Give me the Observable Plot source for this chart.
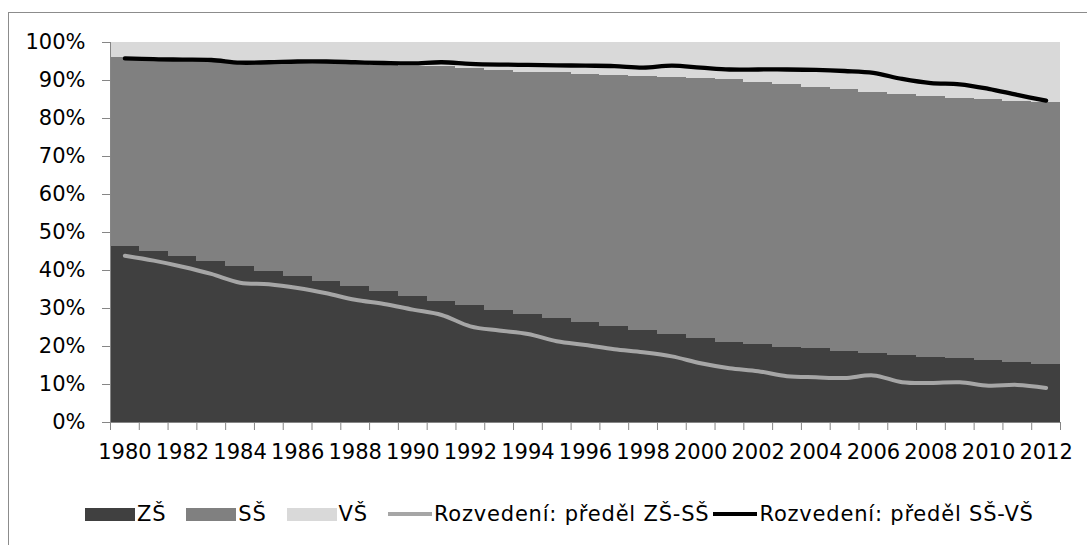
<!DOCTYPE html>
<html>
<head>
<meta charset="utf-8">
<script src="https://cdn.jsdelivr.net/npm/d3@7"></script>
<script src="https://cdn.jsdelivr.net/npm/@observablehq/plot@0.6"></script>
<style>
  body { margin: 0; background: #fff; }
  #wrap { position: relative; width: 1087px; height: 545px; overflow: hidden; font-family: "DejaVu Sans", sans-serif; }
  #border { position: absolute; left: 8px; top: 12px; width: 1300px; height: 700px; border: 1px solid #8c8c8c; box-sizing: border-box; }
  #chart { position: absolute; left: 0; top: 0; }
  #legend { position: absolute; left: 85px; top: 500px; height: 28px; display: flex; align-items: center; font-size: 21px; letter-spacing: 0.8px; color: #000; white-space: nowrap; }
  .item { display: flex; align-items: center; margin-right: 20px; }
  .item.l { margin-right: 4px; }
  .sw { width: 50px; height: 13px; margin-right: 2px; }
  .ln { width: 44px; height: 4px; margin-right: 2px; }
</style>
</head>
<body>
<div id="wrap">
  <div id="border"></div>
  <div id="chart"></div>
  <div id="legend"></div>
</div>
<script>
const years = [1980,1981,1982,1983,1984,1985,1986,1987,1988,1989,1990,1991,1992,1993,1994,1995,1996,1997,1998,1999,2000,2001,2002,2003,2004,2005,2006,2007,2008,2009,2010,2011,2012];
const seriesNames = ["ZŠ", "SŠ", "VŠ"];
const zs = [46.2,44.9,43.6,42.3,41.0,39.7,38.3,37.0,35.7,34.4,33.1,31.8,30.7,29.5,28.5,27.4,26.4,25.3,24.3,23.2,22.2,21.1,20.5,19.8,19.4,18.8,18.2,17.7,17.2,16.8,16.3,15.7,15.2];
const ss = [49.9,51.0,52.1,53.2,54.1,55.2,56.4,57.5,58.5,59.5,60.7,61.8,62.4,63.1,63.7,64.6,65.2,66.0,66.7,67.5,68.2,69.1,69.1,69.1,68.8,68.8,68.7,68.7,68.7,68.5,68.6,68.9,69.1];
const vs = [3.9,4.1,4.3,4.5,4.9,5.1,5.3,5.5,5.8,6.1,6.2,6.4,6.9,7.4,7.8,8.0,8.4,8.7,9.0,9.3,9.6,9.8,10.4,11.1,11.8,12.4,13.1,13.6,14.1,14.7,15.1,15.4,15.7];
const lineNames = ["Rozvedení: předěl ZŠ-SŠ", "Rozvedení: předěl SŠ-VŠ"];
const lineZsSs = [43.9,42.6,41.0,39.1,36.8,36.4,35.4,34.0,32.3,31.2,29.7,28.3,25.3,24.2,23.3,21.4,20.4,19.3,18.5,17.4,15.6,14.3,13.5,12.2,11.9,11.7,12.4,10.6,10.4,10.6,9.7,9.9,9.1];
const lineSsVs = [95.8,95.6,95.5,95.4,94.7,94.8,95.0,95.0,94.8,94.6,94.5,94.8,94.4,94.2,94.1,94.0,93.9,93.8,93.4,93.9,93.4,92.9,92.9,92.9,92.8,92.5,92.0,90.4,89.3,89.0,87.8,86.2,84.7];
const yTicks = [0,10,20,30,40,50,60,70,80,90,100];
const xLabelYears = [1980,1982,1984,1986,1988,1990,1992,1994,1996,1998,2000,2002,2004,2006,2008,2010,2012];

const barColors = ["#404040", "#808080", "#d9d9d9"];
const lineColors = ["#a6a6a6", "#000000"];
const axisColor = "#868686";
const font = "DejaVu Sans";

const seriesValues = [zs, ss, vs];
const bars = years.flatMap((yr, i) => seriesNames.map((s, k) => ({year: yr, edu: s, v: seriesValues[k][i]})));
const lines = years.flatMap((yr, i) => [
  {year: yr, name: lineNames[0], v: lineZsSs[i]},
  {year: yr, name: lineNames[1], v: lineSsVs[i]}
]);
const bounds = [...years.map(y => y - 0.5), years[years.length - 1] + 0.5];

const chart = Plot.plot({
  width: 1087,
  height: 475,
  marginTop: 42,
  marginLeft: 110,
  marginRight: 27,
  marginBottom: 53,
  style: {fontFamily: font, fontSize: "21px", color: "#000", background: "transparent", overflow: "visible"},
  x: {type: "linear", domain: [bounds[0], bounds[bounds.length - 1]], label: null},
  y: {domain: [0, 100], label: null},
  color: {domain: seriesNames, range: barColors},
  marks: [
    Plot.rectY(bars, {x1: d => d.year - 0.5, x2: d => d.year + 0.5, y: "v", fill: "edu", order: seriesNames, shapeRendering: "crispEdges"}),
    Plot.line(lines.filter(d => d.name === lineNames[0]), {x: "year", y: "v", stroke: lineColors[0], strokeWidth: 4, curve: "catmull-rom"}),
    Plot.line(lines.filter(d => d.name === lineNames[1]), {x: "year", y: "v", stroke: lineColors[1], strokeWidth: 4.3, curve: "catmull-rom"}),
    Plot.ruleY([0], {stroke: axisColor, strokeWidth: 1}),
    Plot.ruleX([bounds[0]], {y1: 0, y2: 100, stroke: axisColor, strokeWidth: 1}),
    Plot.axisY({ticks: yTicks, tickSize: 8, tickPadding: 17, tickFormat: d => d + "%", stroke: axisColor, fill: "#000", label: null}),
    Plot.axisX({ticks: bounds, tickSize: 8, tickFormat: () => "", stroke: axisColor, label: null}),
    Plot.axisX({ticks: xLabelYears, tickSize: 0, tickPadding: 22, tickFormat: d => String(d), fill: "#000", label: null})
  ]
});
document.getElementById("chart").appendChild(chart);

const legend = document.getElementById("legend");
seriesNames.forEach((s, k) => {
  const it = document.createElement("div");
  it.className = "item";
  it.innerHTML = `<div class="sw" style="background:${barColors[k]}"></div><span>${s}</span>`;
  legend.appendChild(it);
});
lineNames.forEach((s, k) => {
  const it = document.createElement("div");
  it.className = "item l";
  it.innerHTML = `<div class="ln" style="background:${lineColors[k]}"></div><span>${s}</span>`;
  legend.appendChild(it);
});
</script>
</body>
</html>
